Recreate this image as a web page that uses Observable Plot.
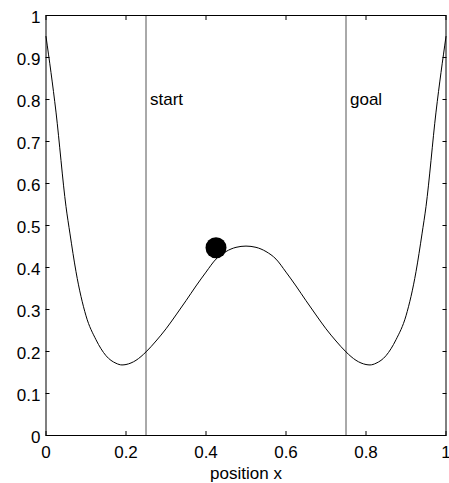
<!DOCTYPE html>
<html><head>
<meta charset="utf-8">
<script src="https://cdn.jsdelivr.net/npm/d3@7"></script>
<script src="https://cdn.jsdelivr.net/npm/@observablehq/plot@0.6"></script>
<style>
html,body{margin:0;padding:0;background:#fff;}
</style>
</head><body><div id="chart"></div>
<script>
const posX = [0,0.025,0.05,0.06,0.075,0.1,0.125,0.15,0.175,0.19,0.2,0.225,0.25,0.275,0.3,0.325,0.35,0.375,0.4,0.425,0.45,0.475,0.5,
  0.525,0.55,0.575,0.6,0.625,0.65,0.675,0.7,0.725,0.75,0.775,0.8,0.81,0.825,0.85,0.875,0.9,0.925,0.94,0.95,0.975,1];
const potential = [0.95,0.77,0.545,0.48,0.39,0.285,0.228,0.19,0.172,0.168,0.169,0.179,0.199,0.225,0.254,0.287,0.321,0.356,0.389,0.42,0.438,0.448,0.451,
  0.448,0.438,0.42,0.389,0.356,0.321,0.287,0.254,0.225,0.199,0.179,0.169,0.168,0.172,0.19,0.228,0.285,0.39,0.48,0.545,0.77,0.95];
const markerNames = ["start","goal"];
const markerX = [0.25,0.75];
const labelLevel = 0.8;
const ballX = [0.425];
const ballY = [0.447];
const xTicks = [0,0.2,0.4,0.6,0.8,1];
const yTicks = [0,0.1,0.2,0.3,0.4,0.5,0.6,0.7,0.8,0.9,1];
const xLabel = "position x";

const curve = posX.map((x,i)=>({x, y: potential[i]}));
const markers = markerNames.map((name,i)=>({name, x: markerX[i], y: labelLevel}));
const ball = ballX.map((x,i)=>({x, y: ballY[i]}));
const fmt = d => String(d);
const blank = () => "";

const chart = Plot.plot({
  width: 449,
  height: 483,
  marginLeft: 45.5,
  marginRight: 3.5,
  marginTop: 15,
  marginBottom: 48,
  x: {domain: [0,1]},
  y: {domain: [0,1]},
  style: {fontFamily: "'Liberation Sans', Arial, sans-serif", fontSize: "17px", color: "black", background: "white"},
  marks: [
    Plot.ruleX(markers, {x: "x", stroke: "#555", strokeWidth: 1}),
    Plot.text(markers, {x: "x", y: "y", text: "name", textAnchor: "start", dx: 4, fontSize: 17}),
    Plot.line(curve, {x: "x", y: "y", curve: "monotone-x", stroke: "black", strokeWidth: 1}),
    Plot.dot(ball, {x: "x", y: "y", r: 10.5, fill: "black", stroke: "none"}),
    // tick labels
    Plot.axisX({anchor: "bottom", ticks: xTicks, tickFormat: fmt, tickSize: 0, tickPadding: 10, label: null, fontSize: 17}),
    Plot.axisY({anchor: "left", ticks: yTicks, tickFormat: fmt, tickSize: 0, tickPadding: 5.5, dy: 2, label: null, fontSize: 17}),
    // inward ticks on all four sides
    Plot.axisX({anchor: "bottom", ticks: xTicks, tickFormat: blank, tickSize: 4, dy: -4, label: null}),
    Plot.axisX({anchor: "top", ticks: xTicks, tickFormat: blank, tickSize: 4, dy: 4, label: null}),
    Plot.axisY({anchor: "left", ticks: yTicks, tickFormat: blank, tickSize: 4, dx: 4, label: null}),
    Plot.axisY({anchor: "right", ticks: yTicks, tickFormat: blank, tickSize: 4, dx: -4, label: null}),
    Plot.text([xLabel], {text: d => d, frameAnchor: "bottom", lineAnchor: "middle", dy: 38, fontSize: 17}),
    Plot.frame({stroke: "black", strokeWidth: 1})
  ]
});
document.getElementById("chart").appendChild(chart);
</script>
</body></html>
